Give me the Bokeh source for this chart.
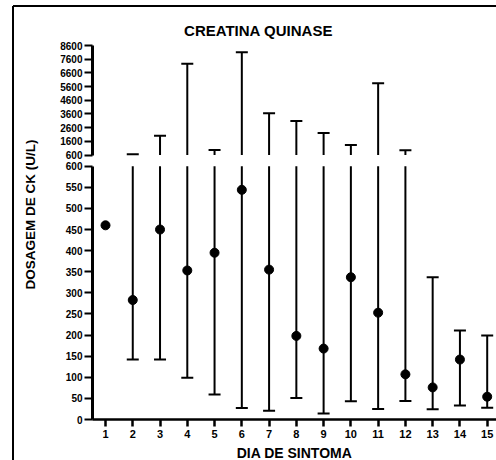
import math
from bokeh.plotting import figure
from bokeh.models import Range1d, LinearAxis, FixedTicker, Label, ColumnDataSource
from bokeh.embed import file_html
from bokeh.resources import INLINE

nan = float("nan")

# ---- data ----
days = list(range(1, 16))
mean_ck = [460, 283, 450, 353, 395, 544, 355, 198, 168, 337, 253, 107, 76, 142, 54]
low_ck = [nan, 142, 142, 99, 59, 27, 21, 51, 14, 43, 25, 44, 24, 33, 28]
high_ck = [nan, 650, 2010, 7260, 970, 8110, 3650, 3090, 2210, 1330, 5840, 940, 337, 211, 199]
lower_ticks = list(range(0, 601, 50))
upper_ticks = list(range(600, 8601, 1000))
BREAK = 600
UPPER_MAX = 8600
title_text = "CREATINA QUINASE"
x_title = "DIA DE SINTOMA"
y_title = "DOSAGEM DE CK (U/L)"

# ---- layout (page pixels); the frame covers the whole canvas ----
W, H = 496, 460
AXIS_X_PX = 92.0          # where the y axes stand
X1_PX, X15_PX = 105.0, 486.7
L0_PX, L600_PX = 419.0, 165.7
U600_PX, U8600_PX = 154.5, 45.0
BORDER_X_PX, BORDER_Y_PX = 12.5, 5.5

dx = (X15_PX - X1_PX) / 14.0
def xdata(px):
    return 1 + (px - X1_PX) / dx

kl = (L0_PX - L600_PX) / BREAK
def ylow(py):
    return (L0_PX - py) / kl

ku = (U600_PX - U8600_PX) / (UPPER_MAX - BREAK)
def yup(py):
    return BREAK + (U600_PX - py) / ku

p = figure(width=W, height=H, output_backend="svg", toolbar_location=None,
           x_range=Range1d(xdata(0), xdata(W)), y_range=Range1d(ylow(H), ylow(0)),
           min_border_left=0, min_border_right=0, min_border_top=0, min_border_bottom=0,
           background_fill_color="white", border_fill_color="white")
p.extra_y_ranges = {"upper": Range1d(yup(H), yup(0))}
p.outline_line_color = None
p.grid.visible = False
p.xaxis.visible = False
p.yaxis.visible = False

FONT = "Liberation Sans"
INK = "black"

# outer box: left and top edges (the rest lies outside the canvas)
p.segment(x0=[xdata(BORDER_X_PX), xdata(BORDER_X_PX)], y0=[ylow(BORDER_Y_PX), ylow(BORDER_Y_PX)],
          x1=[xdata(BORDER_X_PX), xdata(W + 10)], y1=[ylow(H + 10), ylow(BORDER_Y_PX)],
          line_color=INK, line_width=2)

x_axis_start = xdata(AXIS_X_PX)

# x axis
xa = LinearAxis(fixed_location=0, bounds=(x_axis_start, xdata(W + 5)),
                ticker=FixedTicker(ticks=days))
xa.axis_line_width = 2.5
xa.major_tick_line_width = 2.5
xa.major_tick_out = 7
xa.major_tick_in = 0
xa.axis_label = x_title
xa.axis_label_text_font_size = "14px"
xa.axis_label_standoff = 4
xa.major_label_text_font_size = "11px"
xa.major_label_standoff = 3
p.add_layout(xa, "below")

# lower y axis
ya = LinearAxis(fixed_location=x_axis_start, bounds=(0, BREAK),
                ticker=FixedTicker(ticks=lower_ticks))
# upper y axis
yu = LinearAxis(y_range_name="upper", fixed_location=x_axis_start, bounds=(BREAK, UPPER_MAX),
                ticker=FixedTicker(ticks=upper_ticks))
for ax in (ya, yu):
    ax.axis_line_width = 3
    ax.major_tick_line_width = 2
    ax.major_tick_out = 8
    ax.major_tick_in = 0
    ax.major_label_text_font_size = "10px"
    ax.major_label_standoff = 2
    p.add_layout(ax, "left")

for ax in (xa, ya, yu):
    ax.minor_tick_line_color = None
    ax.axis_line_color = INK
    ax.major_tick_line_color = INK
    ax.major_label_text_color = INK
    ax.major_label_text_font = FONT
    ax.major_label_text_font_style = "bold"
    ax.axis_label_text_color = INK
    ax.axis_label_text_font = FONT
    ax.axis_label_text_font_style = "bold"

# ---- error bars ----
idx = [i for i in range(len(days)) if not math.isnan(low_ck[i])]
lo_src = ColumnDataSource(dict(
    x=[days[i] for i in idx],
    y0=[low_ck[i] for i in idx],
    y1=[min(high_ck[i], BREAK) for i in idx]))
p.segment(x0="x", y0="y0", x1="x", y1="y1", source=lo_src, line_color=INK, line_width=2)
p.scatter(x="x", y="y0", source=lo_src, marker="dash", size=12, line_color=INK, line_width=2)

hi_low = [i for i in idx if high_ck[i] <= BREAK]
p.scatter(x=[days[i] for i in hi_low], y=[high_ck[i] for i in hi_low],
          marker="dash", size=12, line_color=INK, line_width=2)

hi_up = [i for i in idx if high_ck[i] > BREAK]
up_src = ColumnDataSource(dict(
    x=[days[i] for i in hi_up],
    y0=[BREAK for i in hi_up],
    y1=[high_ck[i] for i in hi_up]))
p.segment(x0="x", y0="y0", x1="x", y1="y1", source=up_src, line_color=INK,
          line_width=2, y_range_name="upper")
p.scatter(x="x", y="y1", source=up_src, marker="dash", size=12, line_color=INK,
          line_width=2, y_range_name="upper")

# means
p.scatter(x=days, y=mean_ck, marker="circle", size=9, fill_color=INK, line_color=INK)

# ---- titles ----
p.add_layout(Label(x=xdata(258), y=ylow(29.5), text=title_text,
                   text_align="center", text_baseline="middle", text_color=INK,
                   text_font=FONT, text_font_style="bold", text_font_size="15px"))
p.add_layout(Label(x=xdata(30), y=ylow(214), text=y_title, angle=math.pi / 2,
                   text_align="center", text_baseline="middle", text_color=INK,
                   text_font=FONT, text_font_style="bold", text_font_size="13.5px"))

open("out.html", "w").write(file_html(p, INLINE))
